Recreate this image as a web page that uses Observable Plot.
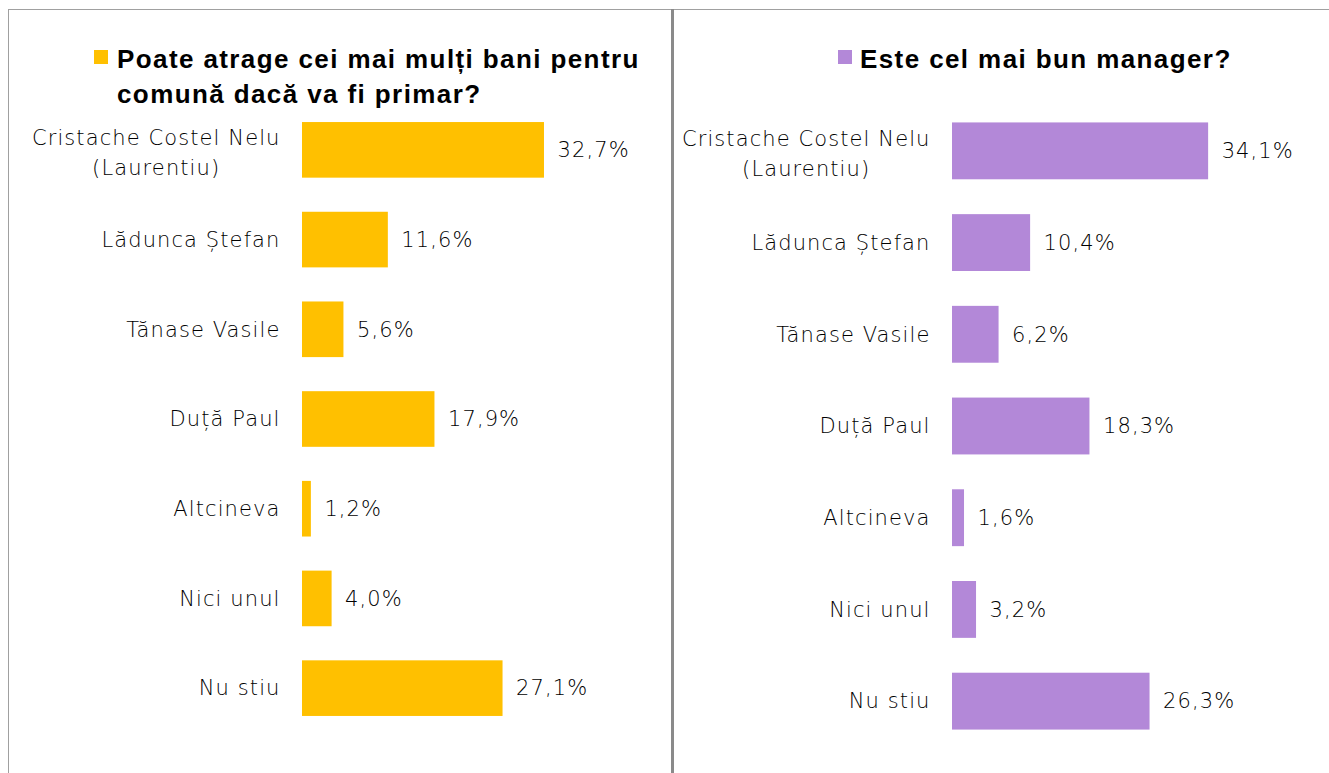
<!DOCTYPE html>
<html><head><meta charset="utf-8">
<script src="https://cdn.jsdelivr.net/npm/d3@7"></script>
<script src="https://cdn.jsdelivr.net/npm/@observablehq/plot@0.6"></script>
<style>
body{margin:0;background:#fff;}
#wrap{position:relative;width:1329px;height:773px;overflow:hidden;background:#fff;}
.line{position:absolute;background:#8c8c8c;z-index:5;}
.title{position:absolute;font-family:"Liberation Sans",Arial,sans-serif;font-weight:bold;font-size:26px;letter-spacing:1.4px;line-height:35px;color:#000;white-space:nowrap;z-index:4;}
.sw{position:absolute;width:14px;height:14px;z-index:4;}
.panel{position:absolute;top:0;height:773px;}
</style></head>
<body>
<div id="wrap"></div>
<script>
// ---- data ----
const categories = ["Cristache Costel Nelu\n(Laurentiu)", "Lădunca Ștefan", "Tănase Vasile", "Duță Paul", "Altcineva", "Nici unul", "Nu stiu"];
const moneyValues = [32.7, 11.6, 5.6, 17.9, 1.2, 4.0, 27.1];
const managerValues = [34.1, 10.4, 6.2, 18.3, 1.6, 3.2, 26.3];
const moneyTitle = ["Poate atrage cei mai mulți bani pentru", "comună dacă va fi primar?"];
const managerTitle = ["Este cel mai bun manager?"];
const moneyColor = "#FFC000";
const managerColor = "#B388D8";

const wrap = document.getElementById("wrap");
const FONT = "DejaVu Sans";
const FS = 21;
const LS = 1.1;
const fmt = v => v.toFixed(1).replace(".", ",") + "%";

const ctx = document.createElement("canvas").getContext("2d");
ctx.font = `300 ${FS}px "${FONT}"`;
const lineWidth = s => Math.max(...s.split("\n").map(l => ctx.measureText(l).width + LS * l.length));

function panel({left, width, values, color, marginLeft, marginRight, marginTop, marginBottom}) {
  const data = categories.map((c, i) => ({cat: c, value: values[i]}));
  const single = categories.filter(c => !c.includes("\n"));
  const multi = categories.filter(c => c.includes("\n"));
  const marks = [
    Plot.barX(data, {x: "value", y: "cat", fill: color}),
    Plot.text(data, {x: "value", y: "cat", text: d => fmt(d.value), textAnchor: "start", dx: 13, fontSize: FS, fill: "#000"}),
    Plot.text(single, {y: d => d, text: d => d, frameAnchor: "left", textAnchor: "end", dx: -22, fontSize: FS, fill: "#000"}),
    ...multi.map(c => Plot.text([c], {y: d => d, text: d => d, frameAnchor: "left", textAnchor: "middle", dx: -22 - lineWidth(c) / 2, lineHeight: 1.43, fontSize: FS, fill: "#000"}))
  ];
  const chart = Plot.plot({
    width, height: 773,
    marginLeft, marginRight, marginTop, marginBottom,
    style: {fontFamily: FONT, fontSize: FS + "px", fontWeight: 300, letterSpacing: LS + "px", background: "transparent", overflow: "visible"},
    x: {domain: [0, 45], axis: null},
    y: {domain: categories, paddingInner: 0.38, paddingOuter: 0.19, round: false, axis: null},
    marks
  });
  const div = document.createElement("div");
  div.className = "panel";
  div.style.left = left + "px";
  div.style.width = width + "px";
  div.appendChild(chart);
  wrap.appendChild(div);
}

panel({left: 0, width: 673, values: moneyValues, color: moneyColor, marginLeft: 302, marginRight: 38, marginTop: 105, marginBottom: 40});
panel({left: 675, width: 654, values: managerValues, color: managerColor, marginLeft: 277, marginRight: 39, marginTop: 105, marginBottom: 26});

function addTitle(lines, color, swLeft, textLeft) {
  const sw = document.createElement("div");
  sw.className = "sw";
  sw.style.left = swLeft + "px"; sw.style.top = "50px"; sw.style.background = color;
  wrap.appendChild(sw);
  const t = document.createElement("div");
  t.className = "title";
  t.style.left = textLeft + "px"; t.style.top = "42px";
  t.innerHTML = lines.map(l => l.replace(/&/g, "&amp;").replace(/</g, "&lt;")).join("<br>");
  wrap.appendChild(t);
}
addTitle(moneyTitle, moneyColor, 94, 117);
addTitle(managerTitle, managerColor, 838, 860);

function addLine(l, t, w, h, c) {
  const d = document.createElement("div");
  d.className = "line";
  Object.assign(d.style, {left: l + "px", top: t + "px", width: w + "px", height: h + "px"});
  if (c) d.style.background = c;
  wrap.appendChild(d);
}
addLine(8, 9, 1321, 1, "#a0a0a0");
addLine(8, 9, 1, 764, "#a0a0a0");
addLine(671, 9, 3, 764, "#8a8a8a");
</script>
</body></html>
